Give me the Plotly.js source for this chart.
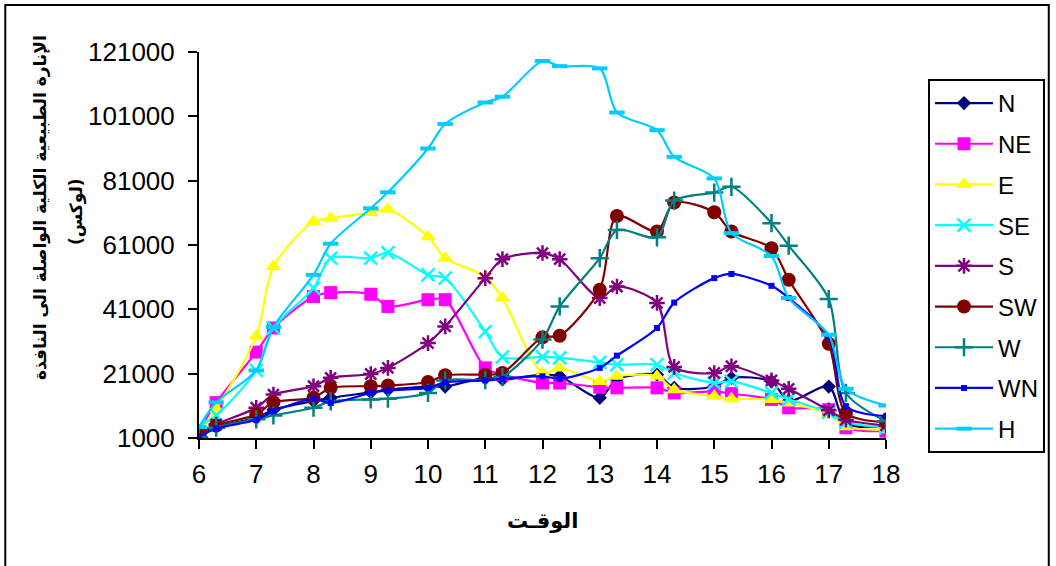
<!DOCTYPE html>
<html>
<head>
<meta charset="utf-8">
<script src="https://cdn.plot.ly/plotly-3.0.1.min.js"></script>
<style>
html,body{margin:0;padding:0;background:#fff;}
#chart{width:1056px;height:566px;}
</style>
</head>
<body>
<div id="chart"></div>
<script>
// Time of day (6.3 = 6:30)
const hours = [6, 6.3, 7, 7.3, 8, 8.3, 9, 9.3, 10, 10.3, 11, 11.3, 12, 12.3, 13, 13.3, 14, 14.3, 15, 15.3, 16, 16.3, 17, 17.3, 18];
const xTicks = [6, 7, 8, 9, 10, 11, 12, 13, 14, 15, 16, 17, 18];
const yTicks = [1000, 21000, 41000, 61000, 81000, 101000, 121000];

const N  = [2000, 4500, 7300, 9800, 12500, 13500, 15200, 16000, 17000, 17000, 19700, 19200, 20700, 20200, 13500, 19200, 20700, 16600, 17000, 19700, 18600, 12500, 17000, 5500, 4700];
const NE = [3100, 12000, 27700, 35200, 45000, 46200, 45700, 41900, 44000, 44000, 22800, 20700, 18100, 18100, 16800, 16600, 16600, 15000, 15500, 14800, 13000, 10400, 9800, 4200, 3100];
const E  = [2600, 10000, 32600, 54300, 68300, 69300, 71100, 72100, 63600, 56900, 51200, 44500, 21200, 22800, 18600, 20200, 20200, 16000, 14000, 13200, 13000, 11900, 8600, 4500, 3600];
const SE = [4700, 8000, 22000, 35200, 47600, 56900, 56900, 58600, 51700, 50700, 34100, 26200, 26200, 25900, 24500, 23800, 23800, 21200, 18100, 18600, 15000, 13000, 9000, 5900, 4200];
const S  = [2100, 5200, 10400, 14500, 17100, 19700, 20900, 22800, 30500, 35700, 50700, 56600, 58500, 56600, 44500, 48100, 43000, 23100, 21200, 23300, 18900, 16300, 9600, 6700, 4900];
const SW = [1800, 4900, 8300, 12100, 13500, 16600, 17100, 17300, 18400, 20500, 20700, 21200, 32300, 32800, 47100, 70000, 65200, 74200, 71200, 65200, 60000, 50200, 30300, 8800, 5900];
const W  = [1200, 4200, 6800, 8000, 10400, 12400, 13000, 13200, 15000, 18900, 19000, 20000, 31600, 41900, 56900, 65700, 63400, 74800, 77300, 79100, 67800, 60800, 44200, 15000, 6200];
const WN = [1500, 3900, 6700, 9300, 13200, 11900, 15000, 15800, 16600, 18300, 18900, 19400, 20200, 19400, 22800, 26600, 35200, 43100, 50700, 52000, 48300, 44500, 32500, 10900, 7800];
const H  = [4400, 12100, 22000, 35500, 51700, 61400, 72400, 77400, 91000, 98600, 105300, 107100, 118200, 116600, 115900, 102200, 96700, 88400, 81700, 64700, 57600, 44500, 33100, 16300, 11100];

const seriesNames = ['N', 'NE', 'E', 'SE', 'S', 'SW', 'W', 'WN', 'H'];
const seriesData = [N, NE, E, SE, S, SW, W, WN, H];
const styles = {
  N:  {color: '#000080', symbol: 'diamond', size: 11},
  NE: {color: '#FF00FF', symbol: 'square', size: 13},
  E:  {color: '#FFFF00', symbol: 'triangle-up', size: 14},
  SE: {color: '#00FFFF', symbol: 'x-thin-open', size: 13, lw: 2.5},
  S:  {color: '#800080', symbol: 'asterisk-open', size: 13, lw: 2.5},
  SW: {color: '#800000', symbol: 'circle', size: 14},
  W:  {color: '#008080', symbol: 'cross-thin-open', size: 13, lw: 2.5},
  WN: {color: '#0000FF', symbol: 'square', size: 6},
  H:  {color: '#00CCFF', symbol: 'line-ew-open', size: 11, lw: 4}
};

const traces = seriesNames.map((name, i) => {
  const st = styles[name];
  return {
    type: 'scatter',
    mode: 'lines+markers',
    name: name,
    legendgroup: name,
    x: hours,
    y: seriesData[i],
    line: {color: st.color, width: 2.2, shape: 'spline', smoothing: 0.8},
    marker: {color: st.color, symbol: st.symbol, size: st.size,
             line: {color: st.color, width: st.lw || 0}}
  };
});

const L = 199, R = 887, T = 52, B = 438.5;
const W_ = R - L, H_ = B - T;
const px = v => (v - L) / W_;
const py = v => (B - v) / H_;

const layout = {
  width: 1056, height: 566,
  margin: {l: L, r: 1056 - R, t: T, b: 566 - B, pad: 0},
  paper_bgcolor: '#fff', plot_bgcolor: '#fff',
  font: {family: 'Arial, "Liberation Sans", sans-serif', color: '#000'},
  showlegend: true,
  legend: {
    x: px(928), y: py(79), xanchor: 'left', yanchor: 'top',
    bordercolor: '#000', borderwidth: 2, bgcolor: '#fff',
    font: {size: 24, family: 'Arial, "Liberation Sans", sans-serif'},
    itemwidth: 58, tracegroupgap: 6.5, traceorder: 'grouped',
    entrywidth: 110
  },
  xaxis: {
    range: [6, 18], tickvals: xTicks, ticktext: xTicks.map(String),
    showgrid: false, zeroline: false, showline: true, linecolor: '#000', linewidth: 2,
    ticks: 'outside', ticklen: 9, tickwidth: 2, tickcolor: '#000',
    tickfont: {size: 26}, ticklabelstandoff: 3
  },
  yaxis: {
    range: [1000, 121000], tickvals: yTicks, ticktext: yTicks.map(String),
    showgrid: false, zeroline: false, showline: true, linecolor: '#000', linewidth: 2,
    ticks: 'outside', ticklen: 9, tickwidth: 2, tickcolor: '#000',
    tickfont: {size: 26}, ticklabelstandoff: 8
  },
  annotations: [
    {xref: 'paper', yref: 'paper', x: px(543), y: py(522), xanchor: 'center', yanchor: 'middle',
     text: '<b>الوقـت</b>', showarrow: false,
     font: {size: 21, family: '"DejaVu Sans", Arial, sans-serif'}},
    {xref: 'paper', yref: 'paper', x: px(41), y: py(208), xanchor: 'center', yanchor: 'middle',
     text: '<b>الإنارة الطبيعية الكلية الواصلة الى النافذة</b>', showarrow: false, textangle: -90,
     font: {size: 17, family: '"DejaVu Sans", Arial, sans-serif'}},
    {xref: 'paper', yref: 'paper', x: px(77), y: py(212), xanchor: 'center', yanchor: 'middle',
     text: '<b>(لوكس)</b>', showarrow: false, textangle: -90,
     font: {size: 17, family: '"DejaVu Sans", Arial, sans-serif'}}
  ],
  shapes: [
    {type: 'rect', xref: 'paper', yref: 'paper', x0: px(5), x1: px(1050), y0: py(600), y1: py(5),
     line: {color: '#000', width: 2}, fillcolor: 'rgba(0,0,0,0)', layer: 'below'}
  ]
};

Plotly.newPlot('chart', traces, layout, {displayModeBar: false, staticPlot: true});
</script>
</body>
</html>
